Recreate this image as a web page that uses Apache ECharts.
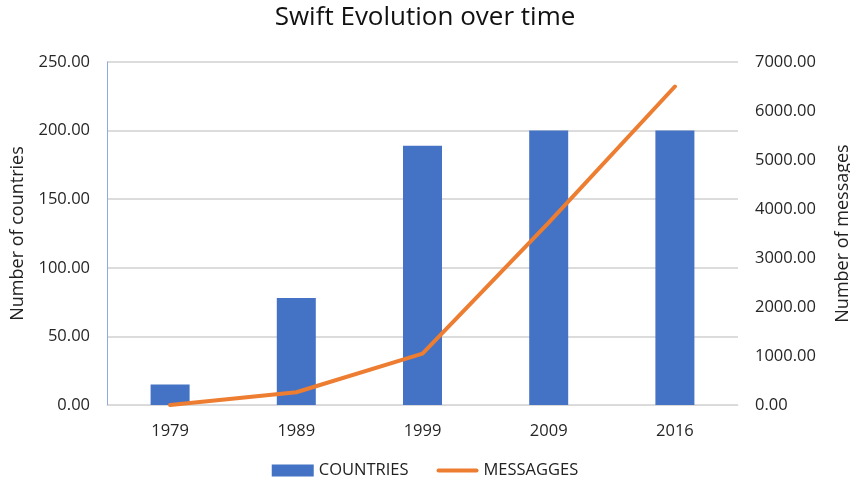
<!DOCTYPE html>
<html>
<head>
<meta charset="utf-8">
<script src="https://cdn.jsdelivr.net/npm/echarts@6/dist/echarts.min.js"></script>
<style>
  html, body { margin: 0; padding: 0; background: #fff; }
  #chart { width: 850px; height: 487px; }
</style>
</head>
<body>
<div id="chart"></div>
<script>
var years = ['1979', '1989', '1999', '2009', '2016'];
var countries = [15, 78, 189, 200, 200];
var messages = [0, 260, 1050, 3720, 6500];

var font = '"Open Sans", "Liberation Sans", sans-serif';
var chart = echarts.init(document.getElementById('chart'));

var option = {
    backgroundColor: '#fff',
    textStyle: { fontFamily: font },
    title: {
        text: 'Swift Evolution over time',
        left: 'center',
        top: 0,
        textStyle: { fontFamily: font, fontSize: 26, fontWeight: 'normal', color: '#111' }
    },
    legend: {
        bottom: 3,
        left: 'center',
        itemGap: 28,
        itemWidth: 42,
        itemHeight: 12,
        textStyle: { fontFamily: font, fontSize: 16.5, color: '#222' },
        data: [
            { name: 'COUNTRIES', icon: 'rect' },
            { name: 'MESSAGGES', icon: 'path://M2,0 H40 A2,2 0 0 1 40,4 H2 A2,2 0 0 1 2,0 Z' }
        ]
    },
    grid: { left: 107, right: 112, top: 62, bottom: 82, outerBoundsMode: 'none' },
    xAxis: {
        type: 'category',
        data: years,
        axisTick: { show: false },
        axisLine: { lineStyle: { color: '#D9D9D9' } },
        axisLabel: { fontSize: 16.5, color: '#262626', margin: 18 }
    },
    yAxis: [
        {
            type: 'value',
            min: 0, max: 250, interval: 50,
            name: 'Number of countries',
            nameLocation: 'middle',
            nameGap: 80,
            nameTextStyle: { fontSize: 18, color: '#222' },
            axisLine: { show: true, lineStyle: { color: '#8FAADC' } },
            axisTick: { show: false },
            axisLabel: { fontSize: 16.5, color: '#262626', margin: 17, formatter: function (v) { return v.toFixed(2); } },
            splitLine: { lineStyle: { color: '#D0D0D0', width: 1.5 } }
        },
        {
            type: 'value',
            min: 0, max: 7000, interval: 1000,
            name: 'Number of messages',
            nameLocation: 'middle',
            nameGap: 96,
            nameTextStyle: { fontSize: 18, color: '#222' },
            axisLine: { show: false },
            axisTick: { show: false },
            axisLabel: { fontSize: 16.5, color: '#262626', margin: 17, formatter: function (v) { return v.toFixed(2); } },
            splitLine: { show: false }
        }
    ],
    series: [
        {
            name: 'COUNTRIES',
            type: 'bar',
            data: countries,
            barWidth: 39,
            itemStyle: { color: '#4472C4' }
        },
        {
            name: 'MESSAGGES',
            type: 'line',
            yAxisIndex: 1,
            data: messages,
            symbol: 'none',
            lineStyle: { color: '#ED7D31', width: 4, cap: 'round' },
            itemStyle: { color: '#ED7D31' }
        }
    ]
};

chart.setOption(option);
</script>
</body>
</html>
